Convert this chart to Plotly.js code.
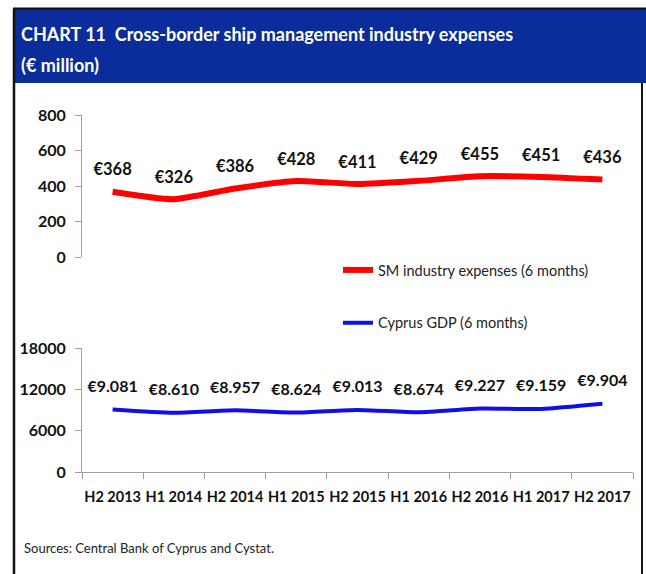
<!DOCTYPE html>
<html>
<head>
<meta charset="utf-8">
<script src="https://cdn.plot.ly/plotly-3.0.1.min.js"></script>
<style>html,body{margin:0;padding:0;background:#fff;}#chart{width:646px;height:574px;}</style>
</head>
<body>
<div id="chart"></div>
<script>
var categories = ["H2 2013","H1 2014","H2 2014","H1 2015","H2 2015","H1 2016","H2 2016","H1 2017","H2 2017"];
var smExpenses = [368, 326, 386, 428, 411, 429, 455, 451, 436];
var smLabels = ["€368","€326","€386","€428","€411","€429","€455","€451","€436"];
var cyprusGdp = [9081, 8610, 8957, 8624, 9013, 8674, 9227, 9159, 9904];
var gdpLabels = ["€9.081","€8.610","€8.957","€8.624","€9.013","€8.674","€9.227","€9.159","€9.904"];
var topTicks = [0, 200, 400, 600, 800];
var bottomTicks = [0, 6000, 12000, 18000];

var W = 646, H = 574;
function px(x){ return x / W; }
function py(y){ return (H - y) / H; }

var FONT = "Lato, Open Sans, sans-serif";
function f(size, color, bold){
  return {family: FONT, size: size, color: color, weight: bold ? "bold" : "normal"};
}

var traces = [
  {
    x: categories, y: smExpenses, text: smLabels,
    name: "SM industry expenses (6 months)",
    mode: "lines+markers+text", textposition: "top center",
    textfont: f(16.5, "#111", true),
    line: {color: "#ff0000", width: 6, shape: "spline", smoothing: 0.6},
    marker: {size: 18, color: "rgba(0,0,0,0)"},
    xaxis: "x", yaxis: "y", legendgroup: "a", cliponaxis: false,
    hoverinfo: "x+y"
  },
  {
    x: categories, y: cyprusGdp, text: gdpLabels,
    name: "Cyprus GDP (6 months)",
    mode: "lines+markers+text", textposition: "top center",
    textfont: f(16, "#111", true),
    line: {color: "#1010e6", width: 4, shape: "spline", smoothing: 0.6},
    marker: {size: 20, color: "rgba(0,0,0,0)"},
    xaxis: "x2", yaxis: "y2", legendgroup: "b", cliponaxis: false,
    hoverinfo: "x+y"
  }
];

var layout = {
  width: W, height: H,
  margin: {l: 0, r: 0, t: 0, b: 0},
  paper_bgcolor: "#ffffff",
  plot_bgcolor: "rgba(0,0,0,0)",
  xaxis: {
    domain: [px(82), px(633)], range: [-0.5, 8.5], type: "category",
    showline: false, showticklabels: false, ticks: "", showgrid: false, zeroline: false,
    anchor: "y", automargin: false
  },
  yaxis: {
    domain: [py(257), py(115)], range: [0, 800],
    tickvals: topTicks, ticktext: topTicks.map(String),
    showline: true, linecolor: "#a0a0a0", linewidth: 1,
    ticks: "outside", ticklen: 6, tickcolor: "#a0a0a0",
    showgrid: false, zeroline: false, tickfont: f(16, "#111", true), ticklabelstandoff: 6,
    anchor: "x", automargin: false
  },
  xaxis2: {
    domain: [px(82), px(633)], range: [-0.5, 8.5], type: "category",
    tickvals: categories, ticktext: categories, tickangle: 0,
    showline: true, linecolor: "#a0a0a0", linewidth: 1,
    ticks: "outside", tickson: "boundaries", ticklen: 6, tickcolor: "#a0a0a0",
    showgrid: false, zeroline: false, tickfont: f(14.5, "#111", true),
    ticklabelstandoff: 12,
    anchor: "y2", automargin: false
  },
  yaxis2: {
    domain: [py(472), py(348)], range: [0, 18000],
    tickvals: bottomTicks, ticktext: bottomTicks.map(String),
    showline: true, linecolor: "#a0a0a0", linewidth: 1,
    ticks: "outside", ticklen: 6, tickcolor: "#a0a0a0",
    showgrid: false, zeroline: false, tickfont: f(16, "#111", true), ticklabelstandoff: 6,
    anchor: "x2", automargin: false
  },
  showlegend: true,
  legend: {
    x: px(338), xanchor: "left", y: py(254), yanchor: "top",
    bgcolor: "rgba(0,0,0,0)", tracegroupgap: 31, itemwidth: 30,
    font: f(14.5, "#222", false)
  },
  shapes: [
    {type: "rect", xref: "paper", yref: "paper", x0: px(13), x1: 1, y0: py(83), y1: py(9),
     fillcolor: "#0b2c9b", line: {width: 0}, layer: "below"},
    {type: "line", xref: "paper", yref: "paper", x0: px(13), x1: 1, y0: py(8.5), y1: py(8.5),
     line: {color: "#111", width: 2}},
    {type: "line", xref: "paper", yref: "paper", x0: px(14), x1: px(14), y0: 0, y1: py(9),
     line: {color: "#111", width: 2.5}},
    {type: "line", xref: "paper", yref: "paper", x0: px(642), x1: px(642), y0: 0, y1: py(83),
     line: {color: "#111", width: 2}}
  ],
  annotations: [
    {text: "CHART 11  Cross-border ship management industry expenses", xref: "paper", yref: "paper",
     x: px(19), y: py(34), xanchor: "left", yanchor: "middle", showarrow: false,
     font: f(18, "#ffffff", true)},
    {text: "(€ million)", xref: "paper", yref: "paper",
     x: px(19), y: py(65), xanchor: "left", yanchor: "middle", showarrow: false,
     font: f(18, "#ffffff", true)},
    {text: "Sources: Central Bank of Cyprus and Cystat.", xref: "paper", yref: "paper",
     x: px(22), y: py(548), xanchor: "left", yanchor: "middle", showarrow: false,
     font: f(13, "#222", false)}
  ]
};

Plotly.newPlot("chart", traces, layout, {displayModeBar: false, staticPlot: true});
</script>
</body>
</html>
